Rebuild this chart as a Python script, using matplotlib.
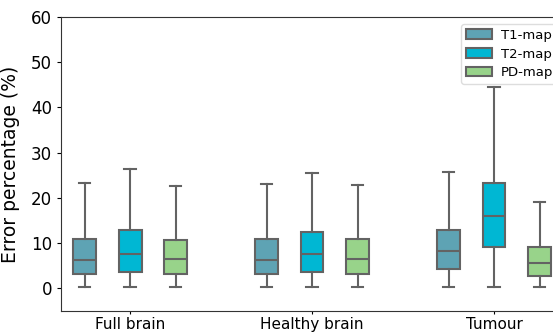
import matplotlib
matplotlib.use('Agg')
import matplotlib.pyplot as plt
from matplotlib.patches import Patch

# box statistics (whislo, q1, med, q3, whishi)
categories = ['Full brain', 'Healthy brain', 'Tumour']
maps = ['T1-map', 'T2-map', 'PD-map']
colors = ['#5ea3b4', '#00b7d3', '#98d38a']

t1_stats = [[0.2, 3.1, 6.3, 11.0, 23.2],
            [0.2, 3.1, 6.3, 11.0, 23.0],
            [0.2, 4.3, 8.2, 12.8, 25.8]]
t2_stats = [[0.2, 3.7, 7.6, 12.9, 26.5],
            [0.2, 3.7, 7.5, 12.5, 25.5],
            [0.2, 9.2, 16.0, 23.3, 44.6]]
pd_stats = [[0.2, 3.1, 6.5, 10.8, 22.6],
            [0.2, 3.1, 6.5, 11.0, 22.8],
            [0.2, 2.7, 5.5, 9.2, 19.0]]

fig = plt.figure(figsize=(5.53, 3.32), dpi=100)
ax = fig.add_axes([0.1103, 0.0633, 0.9476, 0.8855])

edge = '#636363'
offsets = [-0.25, 0.0, 0.25]
for k, series in enumerate([t1_stats, t2_stats, pd_stats]):
    stats = []
    for s in series:
        stats.append({'whislo': s[0], 'q1': s[1], 'med': s[2], 'q3': s[3],
                      'whishi': s[4], 'fliers': []})
    pos = [i + offsets[k] for i in range(len(categories))]
    ax.bxp(stats, positions=pos, widths=0.125, patch_artist=True,
           showfliers=False,
           boxprops=dict(facecolor=colors[k], edgecolor=edge, linewidth=1.5),
           medianprops=dict(color=edge, linewidth=1.5),
           whiskerprops=dict(color=edge, linewidth=1.5),
           capprops=dict(color=edge, linewidth=1.5),
           capwidths=0.0625)

ax.set_xlim(-0.38, 2.5)
ax.set_ylim(-5, 60)
ax.set_xticks(range(len(categories)))
ax.set_xticklabels(categories, fontsize=11)
ax.tick_params(axis='x', length=2, pad=2)
ax.set_yticks([0, 10, 20, 30, 40, 50, 60])
ax.tick_params(axis='y', labelsize=12, length=3)
ax.set_ylabel('Error percentage (%)', fontsize=13.5, labelpad=8)
for sp in ax.spines.values():
    sp.set_color('#333333')

handles = [Patch(facecolor=c, edgecolor=edge, linewidth=1.5) for c in colors]
fig.legend(handles, maps, loc='upper left', bbox_to_anchor=(461 / 553, 1 - 24 / 332),
           borderaxespad=0, fontsize=9.5, labelspacing=0.45, borderpad=0.35,
           handletextpad=0.7, framealpha=1.0, edgecolor='#dddddd')

plt.savefig('out.png', dpi=100)
